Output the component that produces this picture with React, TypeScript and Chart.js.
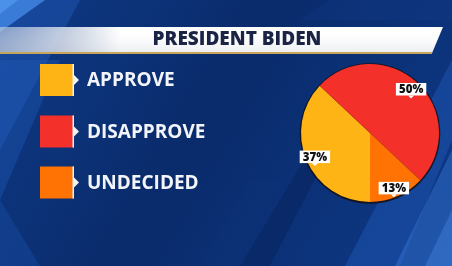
import React, { useEffect, useRef } from "react";
import { Chart, registerables } from "chart.js";

Chart.register(...registerables);

const TITLE = "PRESIDENT BIDEN";
const categories = ["APPROVE", "DISAPPROVE", "UNDECIDED"];
const values = [37, 50, 13];
const valueLabels = ["37%", "50%", "13%"];
const colors = ["#FDB414", "#F3302A", "#FF7204"];

const W = 452;
const H = 266;

const backgroundPlugin = {
  id: "scene",
  beforeDraw(chart: any) {
    const ctx = chart.ctx as CanvasRenderingContext2D;
    ctx.save();
    const base = ctx.createLinearGradient(0, 0, W, H);
    base.addColorStop(0, "#0e3a86");
    base.addColorStop(0.45, "#0a2b6b");
    base.addColorStop(1, "#0d3a88");
    ctx.fillStyle = base;
    ctx.fillRect(0, 0, W, H);

    const poly = (pts: number[][], fill: string | CanvasGradient) => {
      ctx.beginPath();
      ctx.moveTo(pts[0][0], pts[0][1]);
      for (let i = 1; i < pts.length; i++) ctx.lineTo(pts[i][0], pts[i][1]);
      ctx.closePath();
      ctx.fillStyle = fill;
      ctx.fill();
    };
    poly([[0, 0], [80, 0], [0, 150]], "rgba(40,100,200,0.35)");
    poly([[0, 0], [45, 0], [0, 32]], "rgba(70,140,235,0.75)");
    poly([[0, 0], [18, 0], [0, 14]], "rgba(90,160,245,0.6)");
    poly([[0, 60], [60, 60], [0, 200]], "rgba(35,95,190,0.35)");
    poly([[0, 200], [40, 266], [0, 266]], "rgba(30,90,185,0.3)");
    poly([[330, 0], [452, 0], [452, 20], [300, 20]], "rgba(20,60,140,0.25)");
    poly([[452, 60], [452, 140], [400, 266], [345, 266]], "rgba(40,100,200,0.35)");
    poly([[452, 150], [452, 266], [395, 266]], "rgba(55,120,215,0.45)");
    poly([[452, 210], [452, 266], [425, 266]], "rgba(70,135,225,0.4)");
    poly([[200, 266], [250, 180], [280, 180], [235, 266]], "rgba(15,50,120,0.25)");
    poly([[240, 266], [310, 150], [330, 150], [270, 266]], "rgba(5,30,80,0.35)");

    // banner
    const bTop = 27;
    const bBot = 53;
    const bg = ctx.createLinearGradient(0, 0, 120, 0);
    bg.addColorStop(0, "rgba(200,210,225,0.6)");
    bg.addColorStop(1, "rgba(255,255,255,1)");
    poly([[0, bTop], [443, bTop], [432, bBot], [0, bBot]], bg);
    const shade = ctx.createLinearGradient(0, bTop, 0, bBot);
    shade.addColorStop(0, "rgba(255,255,255,0)");
    shade.addColorStop(1, "rgba(200,205,215,0.35)");
    poly([[0, bTop], [443, bTop], [432, bBot], [0, bBot]], shade);
    ctx.fillStyle = "#c8a55a";
    ctx.fillRect(0, bBot - 1, 432, 2);

    ctx.fillStyle = "#1b2445";
    ctx.font = "800 19px 'Open Sans', sans-serif";
    ctx.textAlign = "center";
    ctx.textBaseline = "middle";
    ctx.fillText(TITLE, 237, 40);

    // legend
    const labels = chart.data.labels as string[];
    const cols = chart.data.datasets[0].backgroundColor as string[];
    const centers = [80, 131.5, 182.5];
    labels.forEach((lab, i) => {
      const cy = centers[i];
      const x0 = 40;
      const sw = 34;
      const sh = 32;
      ctx.fillStyle = cols[i];
      ctx.fillRect(x0, cy - sh / 2, sw, sh);
      ctx.fillStyle = "#f2f2f2";
      ctx.fillRect(x0 + sw - 1.5, cy - sh / 2, 1.5, sh);
      ctx.beginPath();
      ctx.moveTo(x0 + sw, cy - 5);
      ctx.lineTo(x0 + sw + 5, cy);
      ctx.lineTo(x0 + sw, cy + 5);
      ctx.closePath();
      ctx.fill();
      ctx.fillStyle = "#f3f5fa";
      ctx.font = "bold 19px 'Open Sans', sans-serif";
      ctx.textAlign = "left";
      ctx.textBaseline = "middle";
      ctx.fillText(lab, 87, cy + 1);
    });
    ctx.restore();
  },
  beforeDatasetsDraw(chart: any) {
    const ctx = chart.ctx as CanvasRenderingContext2D;
    const arc = chart.getDatasetMeta(0).data[0];
    if (!arc) return;
    const p = arc.getProps(["x", "y", "outerRadius"], true);
    ctx.save();
    ctx.beginPath();
    ctx.arc(p.x, p.y + 0.5, p.outerRadius + 1.3, 0, Math.PI * 2);
    ctx.fillStyle = "rgba(20,15,20,0.85)";
    ctx.fill();
    ctx.restore();
  },
  afterDatasetsDraw(chart: any) {
    const ctx = chart.ctx as CanvasRenderingContext2D;
    const meta = chart.getDatasetMeta(0);
    ctx.save();
    meta.data.forEach((arc: any, i: number) => {
      const p = arc.getProps(["x", "y", "startAngle", "endAngle", "outerRadius"], true);
      const mid = (p.startAngle + p.endAngle) / 2;
      const r = p.outerRadius * 0.87;
      const cx = p.x + Math.cos(mid) * r;
      const cy = p.y + Math.sin(mid) * r;
      const txt = valueLabels[i];
      ctx.font = "800 11.5px 'Open Sans', sans-serif";
      const tw = ctx.measureText(txt).width;
      const bw = tw + 6;
      const bh = 12.5;
      ctx.fillStyle = "#ffffff";
      ctx.fillRect(cx - bw / 2, cy - bh / 2, bw, bh);
      ctx.beginPath();
      ctx.moveTo(cx - 3, cy + bh / 2);
      ctx.lineTo(cx, cy + bh / 2 + 3);
      ctx.lineTo(cx + 3, cy + bh / 2);
      ctx.closePath();
      ctx.fill();
      ctx.fillStyle = "#111111";
      ctx.textAlign = "center";
      ctx.textBaseline = "middle";
      ctx.fillText(txt, cx, cy + 0.5);
    });
    ctx.restore();
  },
};

export default function App() {
  const ref = useRef<HTMLCanvasElement | null>(null);
  useEffect(() => {
    if (!ref.current) return;
    const chart = new Chart(ref.current, {
      type: "pie",
      data: {
        labels: categories,
        datasets: [
          {
            data: values,
            backgroundColor: colors,
            borderWidth: 0,
          },
        ],
      },
      options: {
        animation: false,
        responsive: false,
        devicePixelRatio: 1,
        rotation: 180,
        layout: { padding: { left: 301, right: 13, top: 64, bottom: 64 } },
        plugins: {
          legend: { display: false },
          tooltip: { enabled: false },
          title: { display: false },
        },
      },
      plugins: [backgroundPlugin],
    } as any);
    return () => chart.destroy();
  }, []);
  return (
    <div style={{ position: "fixed", left: 0, top: 0, width: W, height: H }}>
      <canvas ref={ref} width={W} height={H} style={{ display: "block", width: W, height: H }} />
    </div>
  );
}
